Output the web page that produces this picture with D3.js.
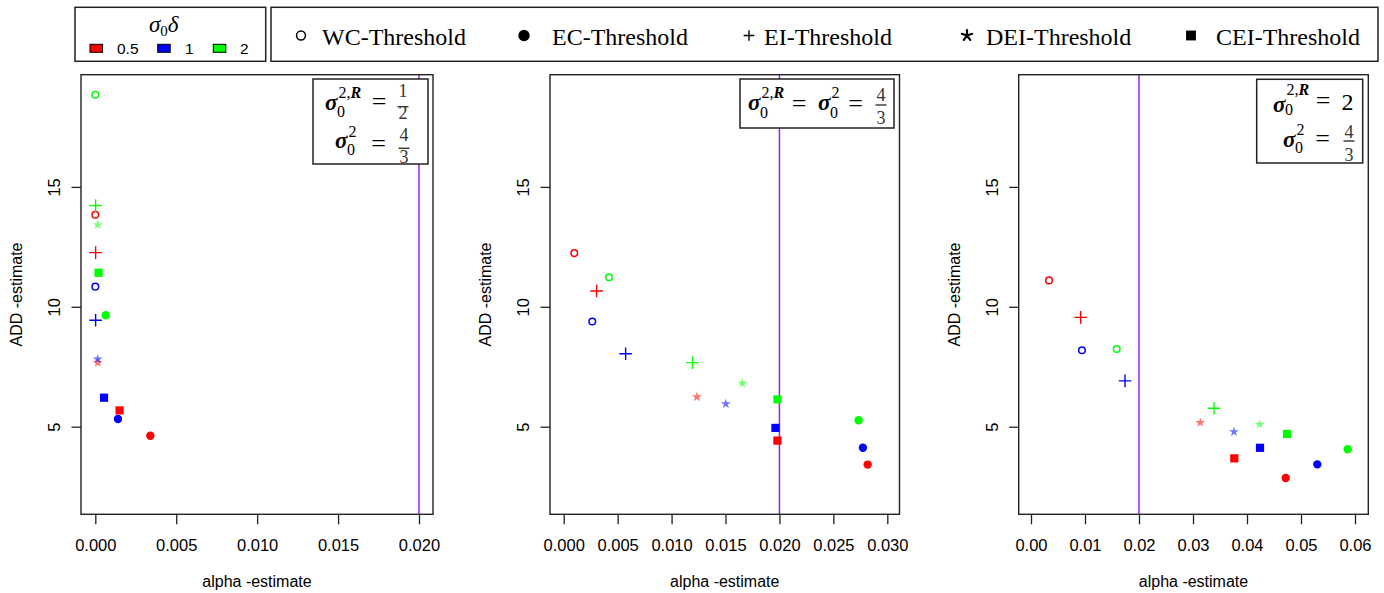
<!DOCTYPE html>
<html>
<head>
<meta charset="utf-8">
<script src="https://cdn.jsdelivr.net/npm/d3@7"></script>
<style>
  body { margin: 0; background: #fff; }
  .tick text { font-family: "Liberation Sans", Arial, sans-serif; font-size: 16.5px; fill: #000; }
  .lab { font-family: "Liberation Sans", Arial, sans-serif; font-size: 16px; fill: #000; }
  .ser { font-family: "Liberation Serif", "Times New Roman", serif; fill: #000; }
</style>
</head>
<body>
<svg id="chart" width="1384" height="593"></svg>
<script>
// methods and sigma0*delta levels
var methods = ["WC-Threshold", "EC-Threshold", "EI-Threshold", "DEI-Threshold", "CEI-Threshold"];
var deltas = ["0.5", "1", "2"];

// rows = method, columns = delta (0.5, 1, 2)
var alphaP1 = [[0.0000, 0.0000, 0.0000], [0.0034, 0.0014, 0.00064], [0.00002, 0.00002, 0.00002], [0.00015, 0.00015, 0.00015], [0.0015, 0.00054, 0.0002]];
var addP1   = [[13.84, 10.84, 18.84], [4.62, 5.32, 9.65], [12.26, 9.44, 14.22], [7.67, 7.82, 13.42], [5.68, 6.21, 11.42]];

var alphaP2 = [[0.00098, 0.00265, 0.0042], [0.02818, 0.02774, 0.02734], [0.00305, 0.00574, 0.01194], [0.01234, 0.01503, 0.01657], [0.01981, 0.01963, 0.01981]];
var addP2   = [[12.24, 9.39, 11.23], [3.42, 4.12, 5.27], [10.66, 8.04, 7.67], [6.24, 5.95, 6.81], [4.42, 4.95, 6.14]];

var alphaP3 = [[0.00333, 0.00944, 0.01587], [0.04717, 0.05302, 0.05865], [0.0092, 0.01741, 0.03389], [0.03135, 0.03759, 0.04235], [0.03765, 0.04241, 0.0474]];
var addP3   = [[11.1, 8.19, 8.24], [2.86, 3.43, 4.06], [9.56, 6.91, 5.77], [5.17, 4.79, 5.1], [3.68, 4.12, 4.70]];

var xTicksP1 = [0, 0.005, 0.010, 0.015, 0.020];
var xTicksP2 = [0, 0.005, 0.010, 0.015, 0.020, 0.025, 0.030];
var xTicksP3 = [0, 0.01, 0.02, 0.03, 0.04, 0.05, 0.06];
var yTicks = [5, 10, 15];
var nominalAlpha = 0.02;

var colors = ["#ff0000", "#0000ff", "#00ff00"];
var kinds = ["wc", "ec", "ei", "dei", "cei"];

var svg = d3.select("#chart");
var plotTop = 74.7, plotBottom = 514.3;

var y = d3.scaleLinear().domain([5, 15]).range([426.7, 186.9]);

// 5-spoke asterisk like the "*" glyph
function asterisk(r) {
  var d = "";
  for (var i = 0; i < 5; i++) {
    var a = -Math.PI / 2 + i * 2 * Math.PI / 5;
    d += "M0,0L" + (r * Math.cos(a)).toFixed(2) + "," + (r * Math.sin(a)).toFixed(2);
  }
  return d;
}

function mark(g, kind, cx, cy, color, big) {
  var k = big ? 1.35 : 1;
  if (kind == "wc") {
    g.append("circle").attr("cx", cx).attr("cy", cy).attr("r", 3.3 * k)
      .attr("fill", "none").attr("stroke", color).attr("stroke-width", 1.5);
  } else if (kind == "ec") {
    g.append("circle").attr("cx", cx).attr("cy", cy).attr("r", 4.2 * k).attr("fill", color);
  } else if (kind == "ei") {
    var h = 6.3 * (big ? 0.85 : 1);
    g.append("path").attr("d", "M" + (cx - h) + "," + cy + "H" + (cx + h) + "M" + cx + "," + (cy - h) + "V" + (cy + h))
      .attr("stroke", color).attr("stroke-width", 1.4).attr("fill", "none");
  } else if (kind == "dei") {
    if (big) {
      g.append("path").attr("d", asterisk(5.5))
        .attr("transform", "translate(" + cx + "," + cy + ")")
        .attr("stroke", color).attr("stroke-width", 2.2).attr("stroke-linecap", "round").attr("fill", "none");
    } else {
      g.append("path").attr("d", d3.symbol(d3.symbolStar, 30)())
        .attr("transform", "translate(" + cx + "," + cy + ")")
        .attr("fill", color).attr("fill-opacity", 0.55);
    }
  } else {
    var s = 8.2 * (big ? 1.2 : 1);
    g.append("rect").attr("x", cx - s / 2).attr("y", cy - s / 2).attr("width", s).attr("height", s).attr("fill", color);
  }
}

function drawPanel(p) {
  var x = d3.scaleLinear().domain([0, p.xmax]).range(p.xr);
  var g = svg.append("g");

  g.append("line")
    .attr("x1", x(nominalAlpha)).attr("x2", x(nominalAlpha))
    .attr("y1", plotTop).attr("y2", plotBottom)
    .attr("stroke", "#a020f0").attr("stroke-width", 1.5);

  var xa = g.append("g")
    .attr("transform", "translate(0," + plotBottom + ")")
    .call(d3.axisBottom(x).tickValues(p.xticks).tickFormat(d3.format(p.fmt)).tickSize(10).tickPadding(15));
  xa.select(".domain").remove();
  xa.selectAll(".tick line").attr("stroke", "#222").attr("stroke-width", 1.3);

  var ya = g.append("g")
    .attr("transform", "translate(" + p.box[0] + ",0)")
    .call(d3.axisLeft(y).tickValues(yTicks).tickSize(9.5));
  ya.select(".domain").remove();
  ya.selectAll(".tick line").attr("stroke", "#222").attr("stroke-width", 1.3);
  ya.selectAll(".tick text")
    .attr("x", null).attr("dy", null)
    .attr("text-anchor", "middle")
    .attr("transform", "translate(-21,0) rotate(-90)");

  g.append("rect")
    .attr("x", p.box[0]).attr("y", plotTop)
    .attr("width", p.box[1] - p.box[0]).attr("height", plotBottom - plotTop)
    .attr("fill", "none").attr("stroke", "#222").attr("stroke-width", 1.4);

  g.append("text").attr("class", "lab")
    .attr("x", (p.box[0] + p.box[1]) / 2).attr("y", 587)
    .attr("text-anchor", "middle").text("alpha -estimate");

  g.append("text").attr("class", "lab")
    .attr("text-anchor", "middle")
    .attr("transform", "translate(" + (p.box[0] - 59) + "," + ((plotTop + plotBottom) / 2) + ") rotate(-90)")
    .text("ADD -estimate");

  // points
  p.alpha.forEach(function(row, m) {
    row.forEach(function(a, d) {
      mark(g, kinds[m], x(a), y(p.add[m][d]), colors[d], false);
    });
  });

  // annotation box
  g.append("rect")
    .attr("x", p.note[0]).attr("y", p.note[1])
    .attr("width", p.note[2] - p.note[0]).attr("height", p.note[3] - p.note[1])
    .attr("fill", "#fff").attr("stroke", "#222").attr("stroke-width", 1.5);
  p.math(g);
}

// little plotmath helpers
function sigma(g, x, base, sup, subY, supY) {
  g.append("text").attr("class", "ser").attr("x", x).attr("y", base)
    .style("font-size", "23px").style("font-style", "italic").style("font-weight", "bold").text("σ");
  g.append("text").attr("class", "ser").attr("x", x + 12).attr("y", subY).style("font-size", "16px").text("0");
  var t = g.append("text").attr("class", "ser").attr("x", x + 13.5).attr("y", supY).style("font-size", "16px");
  t.append("tspan").text(sup);
  if (sup.length > 1) {
    t.text("2,");
    t.append("tspan").style("font-style", "italic").style("font-weight", "bold").text("R");
  }
}
function eq(g, cx, base) {
  g.append("text").attr("class", "ser").attr("x", cx).attr("y", base)
    .attr("text-anchor", "middle").style("font-size", "26px").text("=");
}
function frac(g, cx, numBase, lineY, denBase, num, den) {
  g.append("text").attr("class", "ser").attr("x", cx).attr("y", numBase)
    .attr("text-anchor", "middle").style("font-size", "18px").style("fill", "#333").text(num);
  g.append("line").attr("x1", cx - 5.5).attr("x2", cx + 5.5).attr("y1", lineY).attr("y2", lineY)
    .attr("stroke", "#333").attr("stroke-width", 1.4);
  g.append("text").attr("class", "ser").attr("x", cx).attr("y", denBase)
    .attr("text-anchor", "middle").style("font-size", "18px").style("fill", "#333").text(den);
}

var panels = [
  { xmax: 0.02, xr: [95.3, 419], box: [81, 433], xticks: xTicksP1, fmt: ".3f", alpha: alphaP1, add: addP1,
    note: [313, 79, 428, 164],
    math: function(g) {
      sigma(g, 325, 110, "2,R", 116.5, 98); eq(g, 379, 110); frac(g, 403, 97, 106.7, 119, "1", "2");
      sigma(g, 335, 148, "2", 155, 136.5); eq(g, 378.5, 152); frac(g, 404, 141, 148.3, 163, "4", "3");
    } },
  { xmax: 0.03, xr: [563.7, 887.3], box: [550, 899.5], xticks: xTicksP2, fmt: ".3f", alpha: alphaP2, add: addP2,
    note: [740, 79, 894, 128],
    math: function(g) {
      sigma(g, 748, 110, "2,R", 118, 98); eq(g, 799, 112);
      sigma(g, 818, 110, "2", 118, 98); eq(g, 855.5, 112);
      frac(g, 881, 100.5, 105, 123.5, "4", "3");
    } },
  { xmax: 0.06, xr: [1031, 1355], box: [1018.7, 1368.3], xticks: xTicksP3, fmt: ".2f", alpha: alphaP3, add: addP3,
    note: [1256.7, 79.3, 1362.7, 163],
    math: function(g) {
      sigma(g, 1273, 111.5, "2,R", 115, 95); eq(g, 1323, 109);
      g.append("text").attr("class", "ser").attr("x", 1347.5).attr("y", 110)
        .attr("text-anchor", "middle").style("font-size", "24px").text("2");
      sigma(g, 1283, 147, "2", 153, 135); eq(g, 1322.5, 147);
      frac(g, 1349, 137.5, 141, 160.5, "4", "3");
    } }
];

panels.forEach(drawPanel);

// legend 1: sigma0 delta colours
var l1 = svg.append("g");
l1.append("rect").attr("x", 75).attr("y", 7.3).attr("width", 190.7).attr("height", 54)
  .attr("fill", "#fff").attr("stroke", "#222").attr("stroke-width", 1.5);
var tt = l1.append("text").attr("class", "ser").attr("x", 149).attr("y", 32).style("font-size", "23px");
tt.append("tspan").style("font-style", "italic").text("σ");
tt.append("tspan").attr("dy", 4).style("font-size", "15px").text("0");
tt.append("tspan").attr("dy", -4).style("font-style", "italic").text("δ");
var l1x = [90, 157.7, 213.3];
var l1t = [117, 185, 240];
deltas.forEach(function(d, i) {
  l1.append("rect").attr("x", l1x[i]).attr("y", 44.3).attr("width", 12.5).attr("height", 8)
    .attr("fill", colors[i]).attr("stroke", "#000").attr("stroke-width", 1);
  l1.append("text").attr("class", "lab").attr("x", l1t[i]).attr("y", 54).style("font-size", "15.5px").text(d);
});

// legend 2: method symbols
var l2 = svg.append("g");
l2.append("rect").attr("x", 271).attr("y", 7.3).attr("width", 1107).attr("height", 54)
  .attr("fill", "#fff").attr("stroke", "#222").attr("stroke-width", 1.5);
var symX = [301, 524, 749, 967, 1191];
var txtX = [322, 552, 764, 986, 1216];
methods.forEach(function(m, i) {
  mark(l2, kinds[i], symX[i], 35.5, "#000", true);
  l2.append("text").attr("class", "ser").attr("x", txtX[i]).attr("y", 45).style("font-size", "24px").text(m);
});
</script>
</body>
</html>
